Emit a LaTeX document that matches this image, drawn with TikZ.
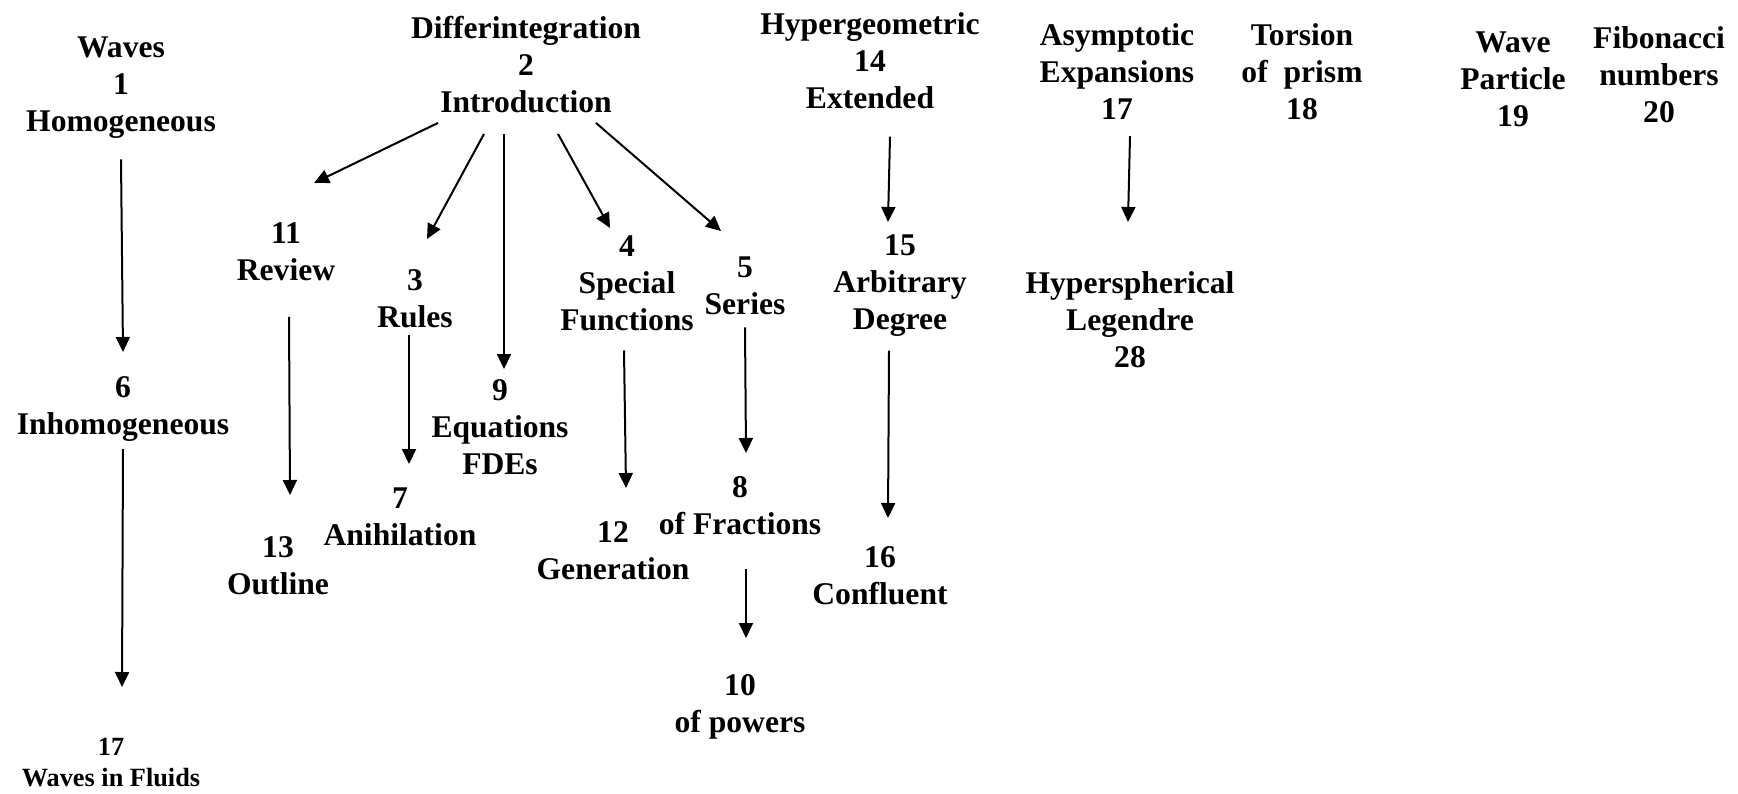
\documentclass[tikz,border=0pt]{standalone}
\usepackage{fontspec}
\setmainfont{Liberation Serif}
\usetikzlibrary{arrows.meta}

\begin{document}
\begin{tikzpicture}[x=0.5pt, y=-0.5pt,
  every node/.style={align=center, anchor=north, inner sep=0pt, font=\bfseries\fontsize{15.8}{18.5}\selectfont},
  small/.style={font=\bfseries\fontsize{13.15}{15.5}\selectfont},
  arr/.style={-{Triangle[width=7pt,length=7.5pt]}, line width=1pt}]
\useasboundingbox (0,0) rectangle (1738,793);
% top row
\node (C1) at (121,36) {Waves\\1\\Homogeneous};
\node (C2) at (526,16) {Differintegration\\2\\Introduction};
\node (C14) at (870,12) {Hypergeometric\\14\\Extended};
\node (C17) at (1117,23) {Asymptotic\\Expansions\\17};
\node (C18) at (1302,23) {Torsion\\of\ \ prism\\18};
\node (C19) at (1513,31) {Wave\\Particle\\19};
\node (C20) at (1659,26) {Fibonacci\\numbers\\20};
% second row
\node (C11) at (286,222) {11\\Review};
\node (C3) at (415,269) {3\\Rules};
\node (C4) at (627,235) {4\\Special\\Functions};
\node (C5) at (745,256) {5\\Series};
\node (C15) at (900,234) {15\\Arbitrary\\Degree};
\node (C28) at (1130,271) {Hyperspherical\\Legendre\\28};
% lower rows
\node (C6) at (123,376) {6\\Inhomogeneous};
\node (C9) at (500,379) {9\\Equations\\FDEs};
\node (C13) at (278,536) {13\\Outline};
\node (C7) at (400,487) {7\\Anihilation};
\node (C12) at (613,521) {12\\Generation};
\node (C8) at (740,476) {8\\of Fractions};
\node (C16) at (880,546) {16\\Confluent};
\node (C10) at (740,674) {10\\of powers};
\node[small] (W17) at (111,738) {17\\Waves in Fluids};
% arrows
\draw[arr] ([yshift=-10.5pt]C1.south) -- ([yshift=12pt]C6.north);
\draw[arr] ([yshift=-3.75pt]C6.south) -- ([xshift=5.5pt,yshift=25.5pt]W17.north);
\draw[arr] ([xshift=-44pt,yshift=-4.75pt]C2.south) -- ([xshift=14pt,yshift=19.5pt]C11.north);
\draw[arr] ([xshift=-21pt,yshift=-10.25pt]C2.south) -- ([xshift=6pt,yshift=15pt]C3.north);
\draw[arr] ([xshift=-11pt,yshift=-10.25pt]C2.south) -- ([xshift=2pt,yshift=5pt]C9.north);
\draw[arr] ([xshift=16pt,yshift=-10.25pt]C2.south) -- ([xshift=-8.5pt,yshift=3.5pt]C4.north);
\draw[arr] ([xshift=35pt,yshift=-4.75pt]C2.south) -- ([xshift=-12pt,yshift=12.5pt]C5.north);
\draw[arr] ([xshift=1.5pt,yshift=-18pt]C11.south) -- ([xshift=6pt,yshift=20.5pt]C13.north);
\draw[arr] ([xshift=-3pt,yshift=-3.25pt]C3.south) -- ([xshift=4.5pt,yshift=11.5pt]C7.north);
\draw[arr] ([xshift=-1.5pt,yshift=-9.75pt]C4.south) -- ([xshift=6.5pt,yshift=16.5pt]C12.north);
\draw[arr] ([yshift=-6.25pt]C5.south) -- ([xshift=3pt,yshift=11.5pt]C8.north);
\draw[arr] ([xshift=3pt,yshift=-16.75pt]C8.south) -- ([xshift=3pt,yshift=18pt]C10.north);
\draw[arr] ([xshift=10pt,yshift=-13.75pt]C14.south) -- ([xshift=-6pt,yshift=6pt]C15.north);
\draw[arr] ([xshift=-5.5pt,yshift=-7pt]C15.south) -- ([xshift=4pt,yshift=14pt]C16.north);
\draw[arr] ([xshift=6.5pt,yshift=-8.25pt]C17.south) -- ([xshift=-1pt,yshift=24.5pt]C28.north);
\end{tikzpicture}
\end{document}
